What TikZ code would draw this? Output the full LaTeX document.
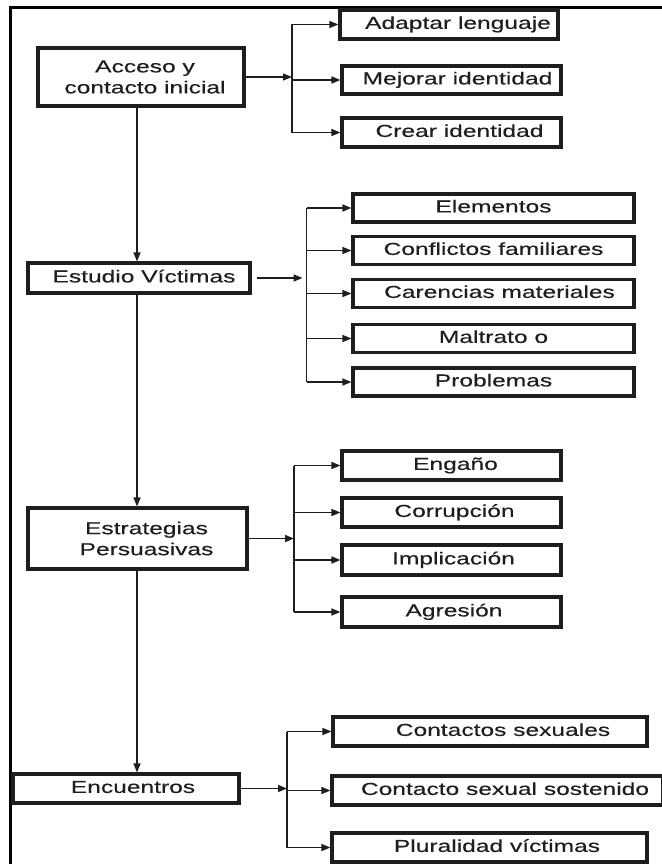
\documentclass[tikz,border=0pt]{standalone}
\usepackage{fontspec}
\setmainfont{Liberation Sans}[FakeStretch=1.42,FakeBold=0.35]
\usetikzlibrary{arrows.meta}
\definecolor{ink}{RGB}{30,30,30}
\tikzset{
  boxn/.style={draw=ink, line width=3.1pt, inner sep=0pt, align=center, text=ink,
    font=\fontsize{17.3pt}{21pt}\selectfont},
  one/.style={text height=12.4pt, text depth=3.6pt},
  conn/.style={draw=ink, line width=1.4pt},
  arr/.style={draw=ink, line width=1.4pt, -{Triangle[length=9pt,width=7pt]}},
  frame/.style={line width=2.6pt}
}
\begin{document}
\begin{tikzpicture}[x=1pt,y=-1pt]
\useasboundingbox (0,0) rectangle (661,864);
% frame
\coordinate (ftl) at (10.5,7.5);
\coordinate (ftr) at (663,7.5);
\coordinate (fbl) at (10.5,866);
\draw[frame] (ftr) -- (ftl) -- (fbl);
% coordinates for trunk and branches
\coordinate (vx) at (137,0);
\coordinate (b1) at (292,0);
\coordinate (b2) at (306.5,0);
\coordinate (b3) at (294,0);
\coordinate (b4) at (287,0);
% main boxes
\node[boxn, minimum width=206pt, minimum height=58pt] (acc) at (141,77) {\hspace*{8pt}Acceso y\\\hspace*{8pt}contacto inicial};
\node[boxn, one, minimum width=222pt, minimum height=30pt] (est) at (139,278) {\hspace*{10pt}Estudio Víctimas};
\node[boxn, minimum width=219pt, minimum height=61pt] (estr) at (137.5,538.5) {\hspace*{18pt}Estrategias\\\hspace*{18pt}Persuasivas};
\node[boxn, one, minimum width=226pt, minimum height=29pt] (enc) at (126,788.5) {\hspace*{14pt}Encuentros};
% group 1
\node[boxn, one, minimum width=218pt, minimum height=29pt] (al) at (449,24.5) {\hspace*{18pt}Adaptar lenguaje};
\node[boxn, one, minimum width=219pt, minimum height=28pt] (mi) at (451.5,80) {\hspace*{12pt}Mejorar identidad};
\node[boxn, one, minimum width=219pt, minimum height=29pt] (ci) at (451.5,132.5) {\hspace*{16pt}Crear identidad};
% group 2
\node[boxn, one, minimum width=281pt, minimum height=28pt] (el) at (493.5,208) {Elementos};
\node[boxn, one, minimum width=281pt, minimum height=28pt] (cf) at (493.5,250.5) {Conflictos familiares};
\node[boxn, one, minimum width=281pt, minimum height=28pt] (cm) at (493.5,293.5) {\hspace*{12pt}Carencias materiales};
\node[boxn, one, minimum width=281pt, minimum height=28pt] (mo) at (493.5,338.5) {Maltrato o};
\node[boxn, one, minimum width=281pt, minimum height=28pt] (pr) at (493.5,382) {Problemas};
% group 3
\node[boxn, one, minimum width=219pt, minimum height=29pt] (eng) at (451.5,465.5) {\hspace*{8pt}Engaño};
\node[boxn, one, minimum width=219pt, minimum height=29pt] (cor) at (451.5,512.5) {\hspace*{6pt}Corrupción};
\node[boxn, one, minimum width=219pt, minimum height=30pt] (imp) at (451.5,560) {\hspace*{4pt}Implicación};
\node[boxn, one, minimum width=219pt, minimum height=30pt] (agr) at (451.5,612) {\hspace*{5pt}Agresión};
% group 4
\node[boxn, one, minimum width=314pt, minimum height=29pt] (cs) at (490,731.5) {\hspace*{26pt}Contactos sexuales};
\node[boxn, one, minimum width=331pt, minimum height=29pt] (css) at (497.5,790.5) {\hspace*{15pt}Contacto sexual sostenido};
\node[boxn, one, minimum width=315pt, minimum height=29pt] (pv) at (489.5,847.5) {\hspace*{15pt}Pluralidad víctimas};
% trunk
\draw[arr] (acc.south -| vx) -- (est.north -| vx);
\draw[arr] (est.south -| vx) -- (estr.north -| vx);
\draw[arr] (estr.south -| vx) -- (enc.north -| vx);
% branch 1
\draw[arr] (acc.east) -- (acc.east -| b1);
\draw[conn] (b1 |- al.west) -- (b1 |- ci.west);
\foreach \n in {al,mi,ci} \draw[arr] (b1 |- \n.west) -- (\n.west);
% branch 2
\draw[arr, shorten <=5pt] (est.east) -- ([xshift=-4pt]est.east -| b2);
\draw[conn] (b2 |- el.west) -- (b2 |- pr.west);
\foreach \n in {el,cf,cm,mo,pr} \draw[arr] (b2 |- \n.west) -- (\n.west);
% branch 3
\draw[arr] (estr.east) -- (estr.east -| b3);
\draw[conn] (b3 |- eng.west) -- (b3 |- agr.west);
\foreach \n in {eng,cor,imp,agr} \draw[arr] (b3 |- \n.west) -- (\n.west);
% branch 4
\draw[arr] (enc.east) -- (enc.east -| b4);
\draw[conn] (b4 |- cs.west) -- (b4 |- pv.west);
\foreach \n in {cs,css,pv} \draw[arr] (b4 |- \n.west) -- (\n.west);
\end{tikzpicture}
\end{document}
